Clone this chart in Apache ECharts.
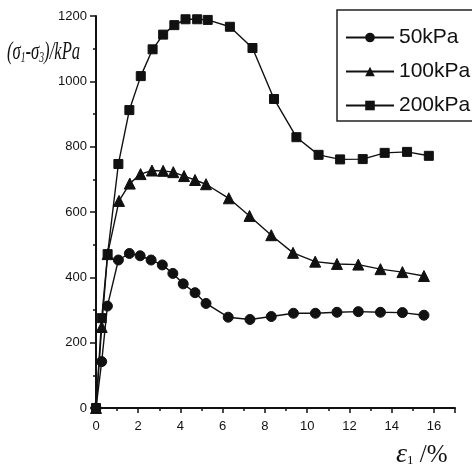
<!DOCTYPE html>
<html>
<head>
<meta charset="utf-8">
<script src="https://cdn.jsdelivr.net/npm/echarts@6/dist/echarts.min.js"></script>
<style>
html,body{margin:0;padding:0;background:#fff;}
#c{width:472px;height:473px;}
</style>
</head>
<body>
<div id="c"></div>
<script>
// Strain (%) and deviator stress (kPa)
var seriesNames = ['50kPa', '100kPa', '200kPa'];
var x50 = [0, 0.27, 0.54, 1.06, 1.58, 2.09, 2.61, 3.14, 3.64, 4.13, 4.69, 5.21, 6.26, 7.29, 8.30, 9.35, 10.39, 11.41, 12.42, 13.47, 14.51, 15.53];
var y50 = [0, 142, 312, 453, 473, 466, 453, 438, 412, 380, 353, 320, 278, 271, 280, 290, 290, 293, 295, 293, 292, 284];
var x100 = [0, 0.27, 0.55, 1.09, 1.60, 2.11, 2.65, 3.18, 3.66, 4.17, 4.69, 5.21, 6.29, 7.27, 8.30, 9.33, 10.38, 11.41, 12.42, 13.47, 14.51, 15.53];
var y100 = [0, 248, 471, 634, 687, 716, 727, 726, 722, 710, 698, 685, 642, 588, 529, 475, 448, 441, 439, 425, 416, 404];
var x200 = [0, 0.27, 0.55, 1.06, 1.58, 2.12, 2.68, 3.18, 3.71, 4.24, 4.79, 5.29, 6.34, 7.41, 8.43, 9.49, 10.54, 11.56, 12.63, 13.67, 14.73, 15.76];
var y200 = [0, 275, 471, 747, 912, 1016, 1098, 1143, 1172, 1190, 1190, 1188, 1167, 1102, 946, 829, 775, 761, 762, 781, 784, 772];
var xTicks = [0, 2, 4, 6, 8, 10, 12, 14, 16];
var yTicks = [0, 200, 400, 600, 800, 1000, 1200];

function pairs(xs, ys) { return xs.map(function (v, i) { return [v, ys[i]]; }); }

var symbols = ['circle', 'triangle', 'rect'];
var sizes = [10, 11, 9];
var datasets = [pairs(x50, y50), pairs(x100, y100), pairs(x200, y200)];

var chart = echarts.init(document.getElementById('c'), null, {renderer: 'canvas'});
var ink = '#111';
var option = {
  animation: false,
  backgroundColor: '#fff',
  grid: {left: 96, right: 17, top: 16, bottom: 65},
  legend: {
    orient: 'vertical',
    left: 337, top: 10,
    data: seriesNames,
    borderColor: '#222', borderWidth: 1.5,
    padding: [17, 4, 5, 8],
    itemGap: 13,
    itemWidth: 48, itemHeight: 12,
    textStyle: {fontFamily: 'Liberation Sans', fontSize: 21, color: ink}
  },
  xAxis: {
    type: 'value', min: 0, max: 17, interval: 2,
    axisLine: {lineStyle: {color: ink, width: 2}},
    axisTick: {length: 5, lineStyle: {color: ink, width: 1.5}},
    minorTick: {show: true, splitNumber: 2, length: 3, lineStyle: {color: ink, width: 1.5}},
    splitLine: {show: false},
    axisLabel: {
      color: ink, fontFamily: 'Liberation Sans', fontSize: 13, margin: 12,
      formatter: function (v) { return xTicks.indexOf(v) >= 0 ? String(v) : ''; }
    }
  },
  yAxis: {
    type: 'value', min: 0, max: 1200, interval: 200,
    axisLine: {show: true, lineStyle: {color: ink, width: 2}},
    axisTick: {show: true, length: 6, lineStyle: {color: ink, width: 1.5}},
    minorTick: {show: true, splitNumber: 2, length: 3, lineStyle: {color: ink, width: 1.5}},
    splitLine: {show: false},
    axisLabel: {
      color: ink, fontFamily: 'Liberation Sans', fontSize: 13, margin: 9,
      formatter: function (v) { return yTicks.indexOf(v) >= 0 ? String(v) : ''; }
    }
  },
  series: seriesNames.map(function (n, i) {
    return {
      name: n, type: 'line', data: datasets[i],
      symbol: symbols[i], symbolSize: sizes[i], showAllSymbol: true,
      lineStyle: {color: ink, width: 1.4},
      itemStyle: {color: ink, borderColor: ink}
    };
  }),
  graphic: [
    {
      type: 'text', x: 7, y: 39, scaleX: 0.64, scaleY: 1,
      style: {
        text: '(σ{sub|1}-σ{sub|3})/kPa',
        rich: {
          sub: {fontFamily: 'Liberation Serif', fontStyle: 'italic', fontSize: 15, padding: [12, 0, 0, 0], fill: ink}
        },
        fontFamily: 'Liberation Serif', fontStyle: 'italic', fontSize: 26, fill: ink
      }
    },
    {
      type: 'text', x: 396, y: 441,
      style: {
        text: 'ε{sub|1}{n| /%}',
        rich: {
          sub: {fontFamily: 'Liberation Serif', fontSize: 13, padding: [12, 0, 0, 0], fill: ink},
          n: {fontFamily: 'Liberation Serif', fontSize: 25, fill: ink}
        },
        fontFamily: 'Liberation Serif', fontStyle: 'italic', fontSize: 28, fill: ink
      }
    }
  ]
};
chart.setOption(option);
</script>
</body>
</html>
